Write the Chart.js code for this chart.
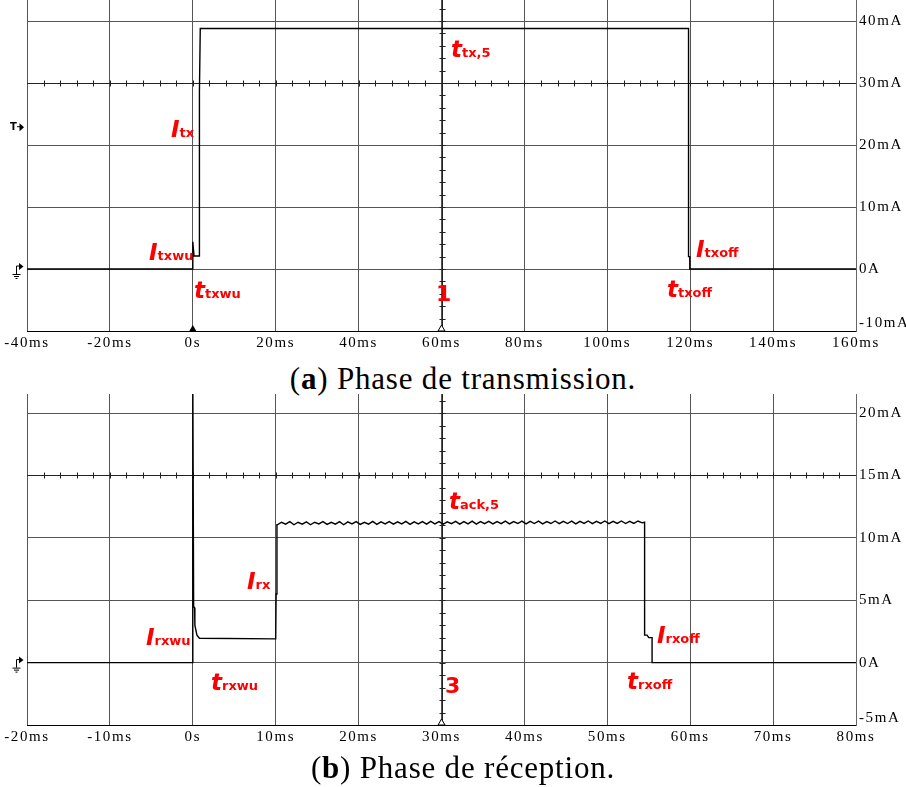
<!DOCTYPE html>
<html><head><meta charset="utf-8">
<script src="https://cdn.jsdelivr.net/npm/chart.js@4.4.1/dist/chart.umd.min.js"></script>
<style>
html,body{margin:0;padding:0;background:#fff;width:906px;height:787px;overflow:hidden;position:relative;}
canvas{position:absolute;left:0;}
#c1{top:0;} #c2{top:394px;}
.cap{position:absolute;left:0;width:926px;text-align:center;font-family:"Liberation Serif",serif;font-size:31px;letter-spacing:0.8px;color:#000;line-height:1;white-space:nowrap;}
</style></head><body>
<canvas id="c1" width="906" height="360"></canvas>
<div class="cap" style="top:363px">(<b>a</b>) Phase de transmission.</div>
<canvas id="c2" width="906" height="360"></canvas>
<div class="cap" style="top:752px">(<b>b</b>) Phase de réception.</div>
<script>
// ---------- DATA ----------
// (a) transmission phase: time (ms) / current (mA)
const txTime    = [-40, 0, 0,   0.3, 1.5, 1.6,  1.8,  119.6, 119.6, 119.9, 119.9, 160];
const txCurrent = [0,   0, 4.4, 2.1, 2.1, 28.5, 38.8, 38.8,  2.0,   2.0,   0,     0];
const txTicksX  = [-40, -20, 0, 20, 40, 60, 80, 100, 120, 140, 160];
const txTicksY  = [-10, 0, 10, 20, 30, 40];

// (b) reception phase: time (ms) / current (mA)
const rxTimeA    = [-20, 0, 0,  0.1, 0.22, 0.25, 0.5, 0.8,  10.0, 10.05, 10.15];
const rxCurrentA = [0,   0, 23, 4.5, 4.4,  3.0,  2.2, 1.95, 1.9,  5.5,   11.05];
const rxRippleStart = 10.2, rxRippleStep = 0.5;   // sampling of the ripple segment
const rxRipple = [
 11.05,11.25,11.10,11.30,11.05,11.25,11.10,11.28,11.05,11.25,
 11.12,11.30,11.08,11.25,11.10,11.30,11.05,11.28,11.12,11.30,
 11.08,11.25,11.10,11.32,11.08,11.28,11.12,11.30,11.10,11.28,
 11.12,11.32,11.08,11.28,11.12,11.30,11.10,11.32,11.12,11.30,
 11.10,11.28,11.14,11.32,11.10,11.30,11.12,11.34,11.10,11.30,
 11.14,11.32,11.12,11.30,11.14,11.34,11.12,11.30,11.15,11.34,
 11.12,11.32,11.15,11.34,11.12,11.30,11.15,11.35,11.14,11.32,
 11.15,11.34,11.12,11.32,11.16,11.35,11.14,11.32,11.16,11.35,
 11.14,11.32,11.16,11.35,11.15,11.33,11.16,11.35,11.20
];
const rxTimeB    = [54.5,  54.5, 54.8, 55.0, 55.4, 55.4, 80];
const rxCurrentB = [11.25, 2.2,  2.2,  2.0,  2.0,  0,    0];
const rxTicksX = [-20, -10, 0, 10, 20, 30, 40, 50, 60, 70, 80];
const rxTicksY = [-5, 0, 5, 10, 15, 20];

// ---------- helpers ----------
const RED = '#ff0000';
const GRID = '#555';
const toPts = (xs, ys) => xs.map((x, i) => ({x, y: ys[i]}));

function fmtX(v){ return v === 0 ? '0s' : v + 'ms'; }
function fmtY(v){ return v === 0 ? '0A' : v + 'mA'; }

function decoPlugin(cfg){
  return {
    id: 'deco',
    beforeDraw(chart){
      const ys = chart.scales.y;
      const items = ys.getLabelItems(chart.chartArea);
      if (items.length && !items[0]._lifted){
        items[0].options.translation[1] -= cfg.liftBottom;
        items[0]._lifted = true;
      }
      chart.ctx.letterSpacing = '1.6px';
    },
    beforeDatasetsDraw(chart){
      const ctx = chart.ctx, xs = chart.scales.x, ys = chart.scales.y;
      ctx.letterSpacing = '0px';
      const a = chart.chartArea;
      ctx.save();
      ctx.strokeStyle = '#222'; ctx.lineWidth = 1;
      const yc = Math.round(ys.getPixelForValue(cfg.centerY)) + 0.5;
      ctx.beginPath(); ctx.moveTo(a.left, yc); ctx.lineTo(a.right, yc); ctx.stroke();
      for (let v = xs.min + cfg.minorX; v < xs.max; v += cfg.minorX){
        const px = Math.round(xs.getPixelForValue(v)) + 0.5;
        ctx.beginPath(); ctx.moveTo(px, yc - 3); ctx.lineTo(px, yc + 3); ctx.stroke();
      }
      const xc = Math.round(xs.getPixelForValue(cfg.centerX)) + 0.5;
      ctx.beginPath(); ctx.moveTo(xc, a.top); ctx.lineTo(xc, a.bottom); ctx.stroke();
      for (let v = ys.min + cfg.minorY; v < ys.max; v += cfg.minorY){
        const py = Math.round(ys.getPixelForValue(v)) + 0.5;
        ctx.beginPath(); ctx.moveTo(xc - 3, py); ctx.lineTo(xc + 3, py); ctx.stroke();
      }
      cfg.markers.forEach(m => {
        const px = xs.getPixelForValue(m.x), py = a.bottom;
        ctx.beginPath(); ctx.moveTo(px - 3.5, py); ctx.lineTo(px, py - 6); ctx.lineTo(px + 3.5, py); ctx.closePath();
        if (m.filled){ ctx.fillStyle = '#000'; ctx.fill(); }
        else { ctx.fillStyle = '#fff'; ctx.fill(); ctx.strokeStyle = '#000'; ctx.stroke(); }
      });
      const gy = ys.getPixelForValue(0);
      ctx.strokeStyle = '#000'; ctx.fillStyle = '#000'; ctx.lineWidth = 1;
      ctx.beginPath(); ctx.moveTo(16.5, gy - 3); ctx.lineTo(16.5, gy + 5); ctx.stroke();
      ctx.beginPath(); ctx.moveTo(16.5, gy - 3); ctx.lineTo(19, gy - 3); ctx.stroke();
      ctx.beginPath(); ctx.moveTo(19, gy - 6); ctx.lineTo(23.5, gy - 2.5); ctx.lineTo(19, gy + 1); ctx.closePath(); ctx.fill();
      ctx.beginPath();
      ctx.moveTo(12.5, gy + 5.5); ctx.lineTo(20.5, gy + 5.5);
      ctx.moveTo(14, gy + 7.5); ctx.lineTo(19, gy + 7.5);
      ctx.moveTo(15.5, gy + 9.5); ctx.lineTo(17.5, gy + 9.5);
      ctx.stroke();
      if (cfg.trigY !== undefined){
        const ty = ys.getPixelForValue(cfg.trigY);
        ctx.font = 'bold 10px "DejaVu Sans"'; ctx.textBaseline = 'middle'; ctx.textAlign = 'left';
        ctx.fillText('T', 10, ty);
        ctx.beginPath(); ctx.moveTo(17, ty - 1); ctx.lineTo(20, ty - 1); ctx.stroke();
        ctx.beginPath(); ctx.moveTo(19.5, ty - 4.5); ctx.lineTo(24, ty - 0.5); ctx.lineTo(19.5, ty + 3.5); ctx.closePath(); ctx.fill();
      }
      ctx.restore();
    },
    afterDraw(chart){
      const ctx = chart.ctx;
      ctx.save();
      ctx.letterSpacing = '0px';
      ctx.fillStyle = RED; ctx.textBaseline = 'alphabetic'; ctx.textAlign = 'left';
      cfg.labels.forEach(l => {
        const y = l.y - cfg.offsetY;
        if (l.plain){
          ctx.font = 'bold 22px "DejaVu Sans"';
          ctx.fillText(l.main, l.x, y);
          return;
        }
        ctx.font = 'italic bold 23px "DejaVu Sans"';
        ctx.fillText(l.main, l.x, y);
        const w = ctx.measureText(l.main).width;
        ctx.font = 'bold 13px "DejaVu Sans"';
        ctx.fillText(l.sub, l.x + w + (l.gap || 0), y);
      });
      ctx.restore();
    }
  };
}

function makeChart(id, data, sc, cfg){
  return new Chart(document.getElementById(id), {
    type: 'line',
    data: { datasets: [{
      data, borderColor: '#000', borderWidth: 1.4, pointRadius: 0, tension: 0,
      fill: false, borderJoinStyle: 'miter'
    }]},
    options: {
      responsive: false, animation: false, devicePixelRatio: 1,
      layout: { padding: { left: 27, right: 0, top: 0, bottom: 0 } },
      plugins: { legend: { display: false }, tooltip: { enabled: false } },
      scales: {
        x: {
          type: 'linear', min: sc.xTicks[0], max: sc.xTicks[sc.xTicks.length - 1],
          afterBuildTicks: s => { s.ticks = sc.xTicks.map(v => ({value: v})); },
          ticks: { callback: fmtX, color: '#000', padding: 3, maxRotation: 0, autoSkip: false,
                   font: { family: '"Liberation Serif"', size: 15 } },
          grid: { color: GRID, drawTicks: false, lineWidth: 1 },
          border: { display: true, color: '#000', width: 1 },
          afterFit: s => { s.height = 29; s.paddingLeft = 0; s.paddingRight = 0; }
        },
        y: {
          type: 'linear', position: 'right', min: sc.yMin, max: sc.yMax,
          afterBuildTicks: s => { s.ticks = sc.yTicks.map(v => ({value: v})); },
          ticks: { callback: fmtY, color: '#000', padding: 3, autoSkip: false,
                   font: { family: '"Liberation Serif"', size: 15 } },
          grid: { color: GRID, drawTicks: false, lineWidth: 1 },
          border: { display: true, color: '#666', width: 1 },
          afterFit: s => { s.width = 50; s.paddingTop = 0; s.paddingBottom = 0; }
        }
      }
    },
    plugins: [decoPlugin(cfg)]
  });
}

makeChart('c1', toPts(txTime, txCurrent),
  { xTicks: txTicksX, yTicks: txTicksY, yMin: -10, yMax: 43.4 },
  { centerX: 60, centerY: 30, minorX: 4, minorY: 2, liftBottom: 8, trigY: 22.8, offsetY: 0,
    markers: [{x: 0, filled: true}, {x: 60, filled: false}],
    labels: [
      {main: 'I', sub: 'tx',    x: 171, y: 137},
      {main: 'I', sub: 'txwu',  x: 149, y: 260},
      {main: 't', sub: 'txwu',  x: 194, y: 298},
      {main: 't', sub: 'tx,5',  x: 451, y: 57},
      {main: 'I', sub: 'txoff', x: 696, y: 257},
      {main: 't', sub: 'txoff', x: 667, y: 297},
      {main: '1', plain: true,  x: 436, y: 301}
    ]});

const rxData = toPts(rxTimeA, rxCurrentA)
  .concat(rxRipple.map((v, i) => ({x: rxRippleStart + i * rxRippleStep, y: v})))
  .concat(toPts(rxTimeB, rxCurrentB));
makeChart('c2', rxData,
  { xTicks: rxTicksX, yTicks: rxTicksY, yMin: -5, yMax: 21.53 },
  { centerX: 30, centerY: 15, minorX: 2, minorY: 1, liftBottom: 7, offsetY: 394,
    markers: [{x: 30, filled: false}],
    labels: [
      {main: 't', sub: 'ack,5', x: 449, y: 509},
      {main: 'I', sub: 'rx',    x: 247, y: 589},
      {main: 'I', sub: 'rxwu',  x: 146, y: 645},
      {main: 't', sub: 'rxwu',  x: 211, y: 690},
      {main: 'I', sub: 'rxoff', x: 657, y: 643},
      {main: 't', sub: 'rxoff', x: 627, y: 689},
      {main: '3', plain: true,  x: 445, y: 693}
    ]});
</script>
</body></html>
